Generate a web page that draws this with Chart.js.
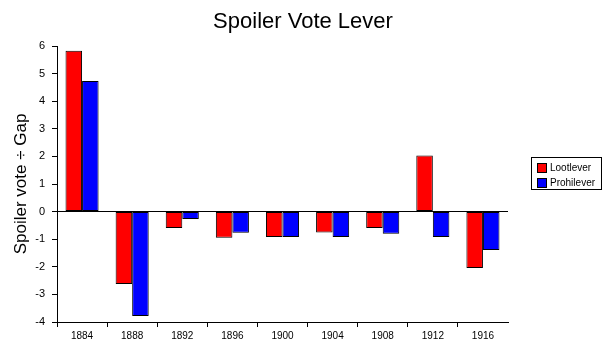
<!DOCTYPE html>
<html>
<head>
<meta charset="utf-8">
<script src="https://cdn.jsdelivr.net/npm/chart.js@4"></script>
<style>
html,body{margin:0;padding:0;background:#fff;}
#wrap{width:606px;height:351px;}
</style>
</head>
<body>
<div id="wrap"><canvas id="c" width="606" height="351"></canvas></div>
<script>
const categories = ['1884','1888','1892','1896','1900','1904','1908','1912','1916'];
const lootlever = [5.83, -2.62, -0.59, -0.95, -0.92, -0.76, -0.59, 2.03, -2.04];
const prohilever = [4.73, -3.78, -0.27, -0.77, -0.92, -0.92, -0.80, -0.92, -1.39];
const seriesNames = ['Lootlever', 'Prohilever'];
const seriesColors = ['#ff0000', '#0000ff'];
const titleText = 'Spoiler Vote Lever';
const yTitle = 'Spoiler vote \u00f7 Gap';

const FONT = "'Liberation Sans', Arial, sans-serif";

const decorPlugin = {
  id: 'decor',
  afterDraw(chart) {
    const ctx = chart.ctx;
    ctx.save();
    // title centred on the canvas
    ctx.fillStyle = '#000';
    ctx.font = '22px ' + FONT;
    ctx.textAlign = 'center';
    ctx.textBaseline = 'middle';
    ctx.fillText(titleText, 303, 22);
    // legend
    ctx.strokeStyle = '#000';
    ctx.lineWidth = 1;
    ctx.strokeRect(531.5, 157.5, 70, 32);
    chart.data.datasets.forEach((ds, i) => {
      const y = 163 + i * 15;
      ctx.fillStyle = ds.backgroundColor;
      ctx.fillRect(537, y, 9, 9);
      ctx.strokeRect(537.5, y + 0.5, 9, 9);
      ctx.fillStyle = '#000';
      ctx.font = '10px ' + FONT;
      ctx.textBaseline = 'middle';
      ctx.textAlign = 'left';
      ctx.fillText(ds.label, 550, y + 5);
    });
    ctx.restore();
  }
};

new Chart(document.getElementById('c'), {
  type: 'bar',
  data: {
    labels: categories,
    datasets: [
      { label: seriesNames[0], data: lootlever, backgroundColor: seriesColors[0], borderColor: '#000', borderWidth: 1, borderSkipped: false },
      { label: seriesNames[1], data: prohilever, backgroundColor: seriesColors[1], borderColor: '#000', borderWidth: 1, borderSkipped: false }
    ]
  },
  options: {
    responsive: false,
    animation: false,
    devicePixelRatio: 1,
    layout: { padding: { left: 0, right: 98, top: 46, bottom: 0 } },
    datasets: { bar: { barPercentage: 1.0, categoryPercentage: 0.66 } },
    plugins: {
      legend: { display: false },
      tooltip: { enabled: false },
      title: { display: false }
    },
    scales: {
      x: {
        offset: true,
        grid: {
          display: true, drawOnChartArea: false, tickLength: 5, offset: true,
          tickColor: (c) => (typeof c.index === 'number' && c.index < categories.length) ? '#000' : 'rgba(0,0,0,0)'
        },
        border: { color: '#000', width: 1 },
        ticks: { color: '#000', font: { family: FONT, size: 10 }, padding: 3, maxRotation: 0 },
        afterFit(s) { s.height = 29; }
      },
      y: {
        min: -4, max: 6,
        ticks: { stepSize: 1, color: '#000', font: { family: FONT, size: 11 }, padding: 7 },
        grid: {
          display: true,
          tickLength: 5,
          tickColor: '#000',
          color: (c) => (c.tick && c.tick.value === 0) ? '#000' : 'rgba(0,0,0,0)'
        },
        border: { color: '#000', width: 1 },
        title: {
          display: true,
          text: yTitle,
          color: '#000',
          font: { family: FONT, size: 17 },
          padding: { top: 11, bottom: 0 }
        },
        afterFit(s) { s.width = 57; }
      }
    }
  },
  plugins: [decorPlugin]
});
</script>
</body>
</html>
